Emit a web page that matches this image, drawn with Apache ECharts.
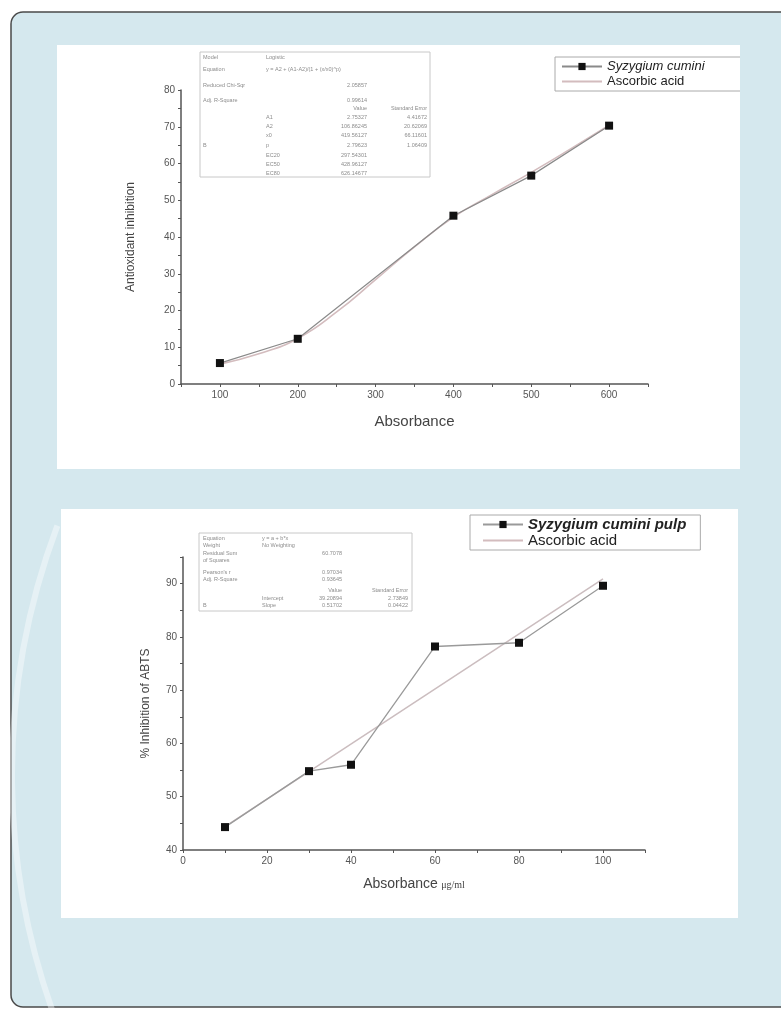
<!DOCTYPE html>
<html><head><meta charset="utf-8">
<script src="https://cdn.jsdelivr.net/npm/echarts@6/dist/echarts.min.js"></script>
<style>html,body{margin:0;padding:0;background:#fff}#c{width:781px;height:1010px}</style>
</head><body><div id="c"></div>
<script>
// ---------- Chart 1 : Antioxidant inhibition ----------
const dpphX = [100, 200, 400, 500, 600];
const dpphSample = [5.7, 12.3, 45.8, 56.7, 70.3];
const dpphFitX = [100, 150, 200, 250, 300, 350, 400, 450, 500, 550, 600];
const dpphFit = [5.4, 8.2, 12.4, 19.6, 28.4, 37.3, 45.4, 51.6, 57.6, 63.9, 70.4];
const dpphXLabels = [100, 200, 300, 400, 500, 600];
const dpphYLabels = [0, 10, 20, 30, 40, 50, 60, 70, 80];
const dpphNames = ['Syzygium cumini', 'Ascorbic acid'];
const dpphTable = [
  ['Model', 'Logistic', '', ''],
  ['Equation', 'y = A2 + (A1-A2)/(1 + (x/x0)^p)', '', ''],
  ['Reduced Chi-Sqr', '', '2.05857', ''],
  ['Adj. R-Square', '', '0.99614', ''],
  ['', '', 'Value', 'Standard Error'],
  ['', 'A1', '2.75327', '4.41672'],
  ['', 'A2', '106.86245', '20.62069'],
  ['', 'x0', '419.56127', '66.11601'],
  ['B', 'p', '2.79623', '1.06409'],
  ['', 'EC20', '297.54301', ''],
  ['', 'EC50', '428.96127', ''],
  ['', 'EC80', '626.14677', '']
];

// ---------- Chart 2 : ABTS ----------
const abtsX = [10, 30, 40, 60, 80, 100];
const abtsSample = [44.3, 54.8, 56.0, 78.2, 78.9, 89.6];
const abtsFitX = [10, 100];
const abtsFit = [44.4, 90.9];
const abtsXLabels = [0, 20, 40, 60, 80, 100];
const abtsYLabels = [40, 50, 60, 70, 80, 90];
const abtsNames = ['Syzygium cumini pulp', 'Ascorbic acid'];
const abtsTable = [
  ['Equation', 'y = a + b*x', '', ''],
  ['Weight', 'No Weighting', '', ''],
  ['Residual Sum', '', '60.7078', ''],
  ['of Squares', '', '', ''],
  ["Pearson's r", '', '0.97034', ''],
  ['Adj. R-Square', '', '0.93645', ''],
  ['', '', 'Value', 'Standard Error'],
  ['', 'Intercept', '39.20894', '2.73849'],
  ['B', 'Slope', '0.51702', '0.04422']
];

const zip = (xs, ys) => xs.map((x, i) => [x, ys[i]]);
const BG = '#d5e8ee';

function tableGraphic(rows, box, rowY, cols) {
  const els = [{type: 'rect', z: 1, shape: {x: box[0], y: box[1], width: box[2], height: box[3]},
    style: {fill: '#fff', stroke: '#c8c8c8', lineWidth: 1}}];
  rows.forEach((r, i) => {
    r.forEach((t, j) => {
      if (!t) return;
      els.push({type: 'text', z: 2, x: cols[j][0], y: rowY[i],
        style: {text: t, fontSize: 5.5, fill: '#8c8c8c', align: cols[j][1], verticalAlign: 'middle',
          fontFamily: 'Liberation Sans'}});
    });
  });
  return els;
}

const axisCommon = {
  axisLine: {show: true, onZero: false, lineStyle: {color: '#555', width: 1.5}},
  axisTick: {show: true, length: 3, lineStyle: {color: '#555', width: 1}},
  splitLine: {show: false},
  axisLabel: {color: '#555', fontSize: 10, fontFamily: 'Liberation Sans', margin: 6}
};
function lab(list) { return v => (list.indexOf(v) >= 0 ? String(v) : ''); }
const noSymbol = {color: 'rgba(0,0,0,0)', borderColor: 'rgba(0,0,0,0)', borderWidth: 0};

const chart = echarts.init(document.getElementById('c'), null, {renderer: 'canvas'});
const graphics = [
  {type: 'rect', z: -10, shape: {x: 11, y: 12, width: 800, height: 995, r: 12},
    style: {fill: BG, stroke: '#4a4a4a', lineWidth: 1.5}},
  {type: 'arc', z: -9, shape: {cx: 720, cy: 775, r: 708, startAngle: Math.PI - 0.38, endAngle: Math.PI + 0.36},
    style: {stroke: 'rgba(255,255,255,0.4)', lineWidth: 6, fill: null}},
  {type: 'rect', z: -8, shape: {x: 57, y: 45, width: 683, height: 424}, style: {fill: '#fff'}},
  {type: 'rect', z: -8, shape: {x: 61, y: 509, width: 677, height: 409}, style: {fill: '#fff'}},
  {type: 'rect', z: 100, shape: {x: 740, y: 45, width: 41, height: 424}, style: {fill: BG}}
].concat(
  tableGraphic(dpphTable, [200, 52, 230, 125],
    [57, 69, 85, 100, 108, 117, 126, 135, 145, 155, 164, 173],
    [[203, 'left'], [266, 'left'], [367, 'right'], [427, 'right']]),
  tableGraphic(abtsTable, [199, 533, 213, 78],
    [538, 545, 553, 560, 572, 579, 590, 598, 605],
    [[203, 'left'], [262, 'left'], [342, 'right'], [408, 'right']])
);

chart.setOption({
  animation: false,
  backgroundColor: '#fff',
  graphic: graphics,
  grid: [
    {left: 181, top: 90, width: 467, height: 294},
    {left: 183, top: 557, width: 462, height: 293}
  ],
  legend: [
    {orient: 'vertical', left: 555, top: 57, padding: [3, 40, 3, 6], itemGap: 2,
      itemWidth: 40, itemHeight: 9, borderColor: '#aaa', borderWidth: 1, backgroundColor: '#fff',
      textStyle: {fontSize: 13, color: '#222', fontFamily: 'Liberation Sans'},
      data: [{name: dpphNames[0], textStyle: {fontStyle: 'italic'}},
             {name: dpphNames[1], itemStyle: noSymbol}]},
    {orient: 'vertical', left: 470, top: 515, padding: [2, 14, 2, 12], itemGap: 1,
      itemWidth: 40, itemHeight: 9, borderColor: '#aaa', borderWidth: 1, backgroundColor: '#fff',
      textStyle: {fontSize: 15, color: '#222', fontFamily: 'Liberation Sans'},
      data: [{name: abtsNames[0], textStyle: {fontStyle: 'italic', fontWeight: 'bold'}},
             {name: abtsNames[1], itemStyle: noSymbol}]}
  ],
  xAxis: [
    Object.assign({}, axisCommon, {type: 'value', gridIndex: 0, min: 50, max: 650, interval: 50,
      axisLabel: Object.assign({}, axisCommon.axisLabel, {formatter: lab(dpphXLabels)}),
      name: 'Absorbance', nameLocation: 'middle', nameGap: 30,
      nameTextStyle: {fontSize: 15, color: '#444', fontFamily: 'Liberation Sans'}}),
    Object.assign({}, axisCommon, {type: 'value', gridIndex: 1, min: 0, max: 110, interval: 10,
      axisLabel: Object.assign({}, axisCommon.axisLabel, {formatter: lab(abtsXLabels)}),
      name: '{a|Absorbance} {b|μg/ml}', nameLocation: 'middle', nameGap: 27,
      nameTextStyle: {rich: {
        a: {fontSize: 14, color: '#444', fontFamily: 'Liberation Sans'},
        b: {fontSize: 10, color: '#444', fontFamily: 'Liberation Serif', padding: [3, 0, 0, 0]}}}})
  ],
  yAxis: [
    Object.assign({}, axisCommon, {type: 'value', gridIndex: 0, min: 0, max: 80, interval: 5,
      axisLabel: Object.assign({}, axisCommon.axisLabel, {formatter: lab(dpphYLabels)}),
      name: 'Antioxidant inhibition', nameLocation: 'middle', nameGap: 44,
      nameTextStyle: {fontSize: 12, color: '#444', fontFamily: 'Liberation Sans'}}),
    Object.assign({}, axisCommon, {type: 'value', gridIndex: 1, min: 40, max: 95, interval: 5,
      axisLabel: Object.assign({}, axisCommon.axisLabel, {formatter: lab(abtsYLabels)}),
      name: '% Inhibition of ABTS', nameLocation: 'middle', nameGap: 31,
      nameTextStyle: {fontSize: 12, color: '#444', fontFamily: 'Liberation Sans'}})
  ],
  series: [
    {name: dpphNames[1], type: 'line', xAxisIndex: 0, yAxisIndex: 0, data: zip(dpphFitX, dpphFit),
      smooth: true, symbol: 'none', lineStyle: {color: '#d3bcbe', width: 1.6}, itemStyle: {color: '#d3bcbe'}},
    {name: dpphNames[0], type: 'line', xAxisIndex: 0, yAxisIndex: 0, data: zip(dpphX, dpphSample),
      symbol: 'rect', symbolSize: 8, lineStyle: {color: '#8a8a8a', width: 1.2}, itemStyle: {color: '#111'}},
    {name: abtsNames[1], type: 'line', xAxisIndex: 1, yAxisIndex: 1, data: zip(abtsFitX, abtsFit),
      symbol: 'none', lineStyle: {color: '#cbbdbf', width: 1.5}, itemStyle: {color: '#cbbdbf'}},
    {name: abtsNames[0], type: 'line', xAxisIndex: 1, yAxisIndex: 1, data: zip(abtsX, abtsSample),
      symbol: 'rect', symbolSize: 8, lineStyle: {color: '#9a9a9a', width: 1.3}, itemStyle: {color: '#111'}}
  ]
});
</script></body></html>
